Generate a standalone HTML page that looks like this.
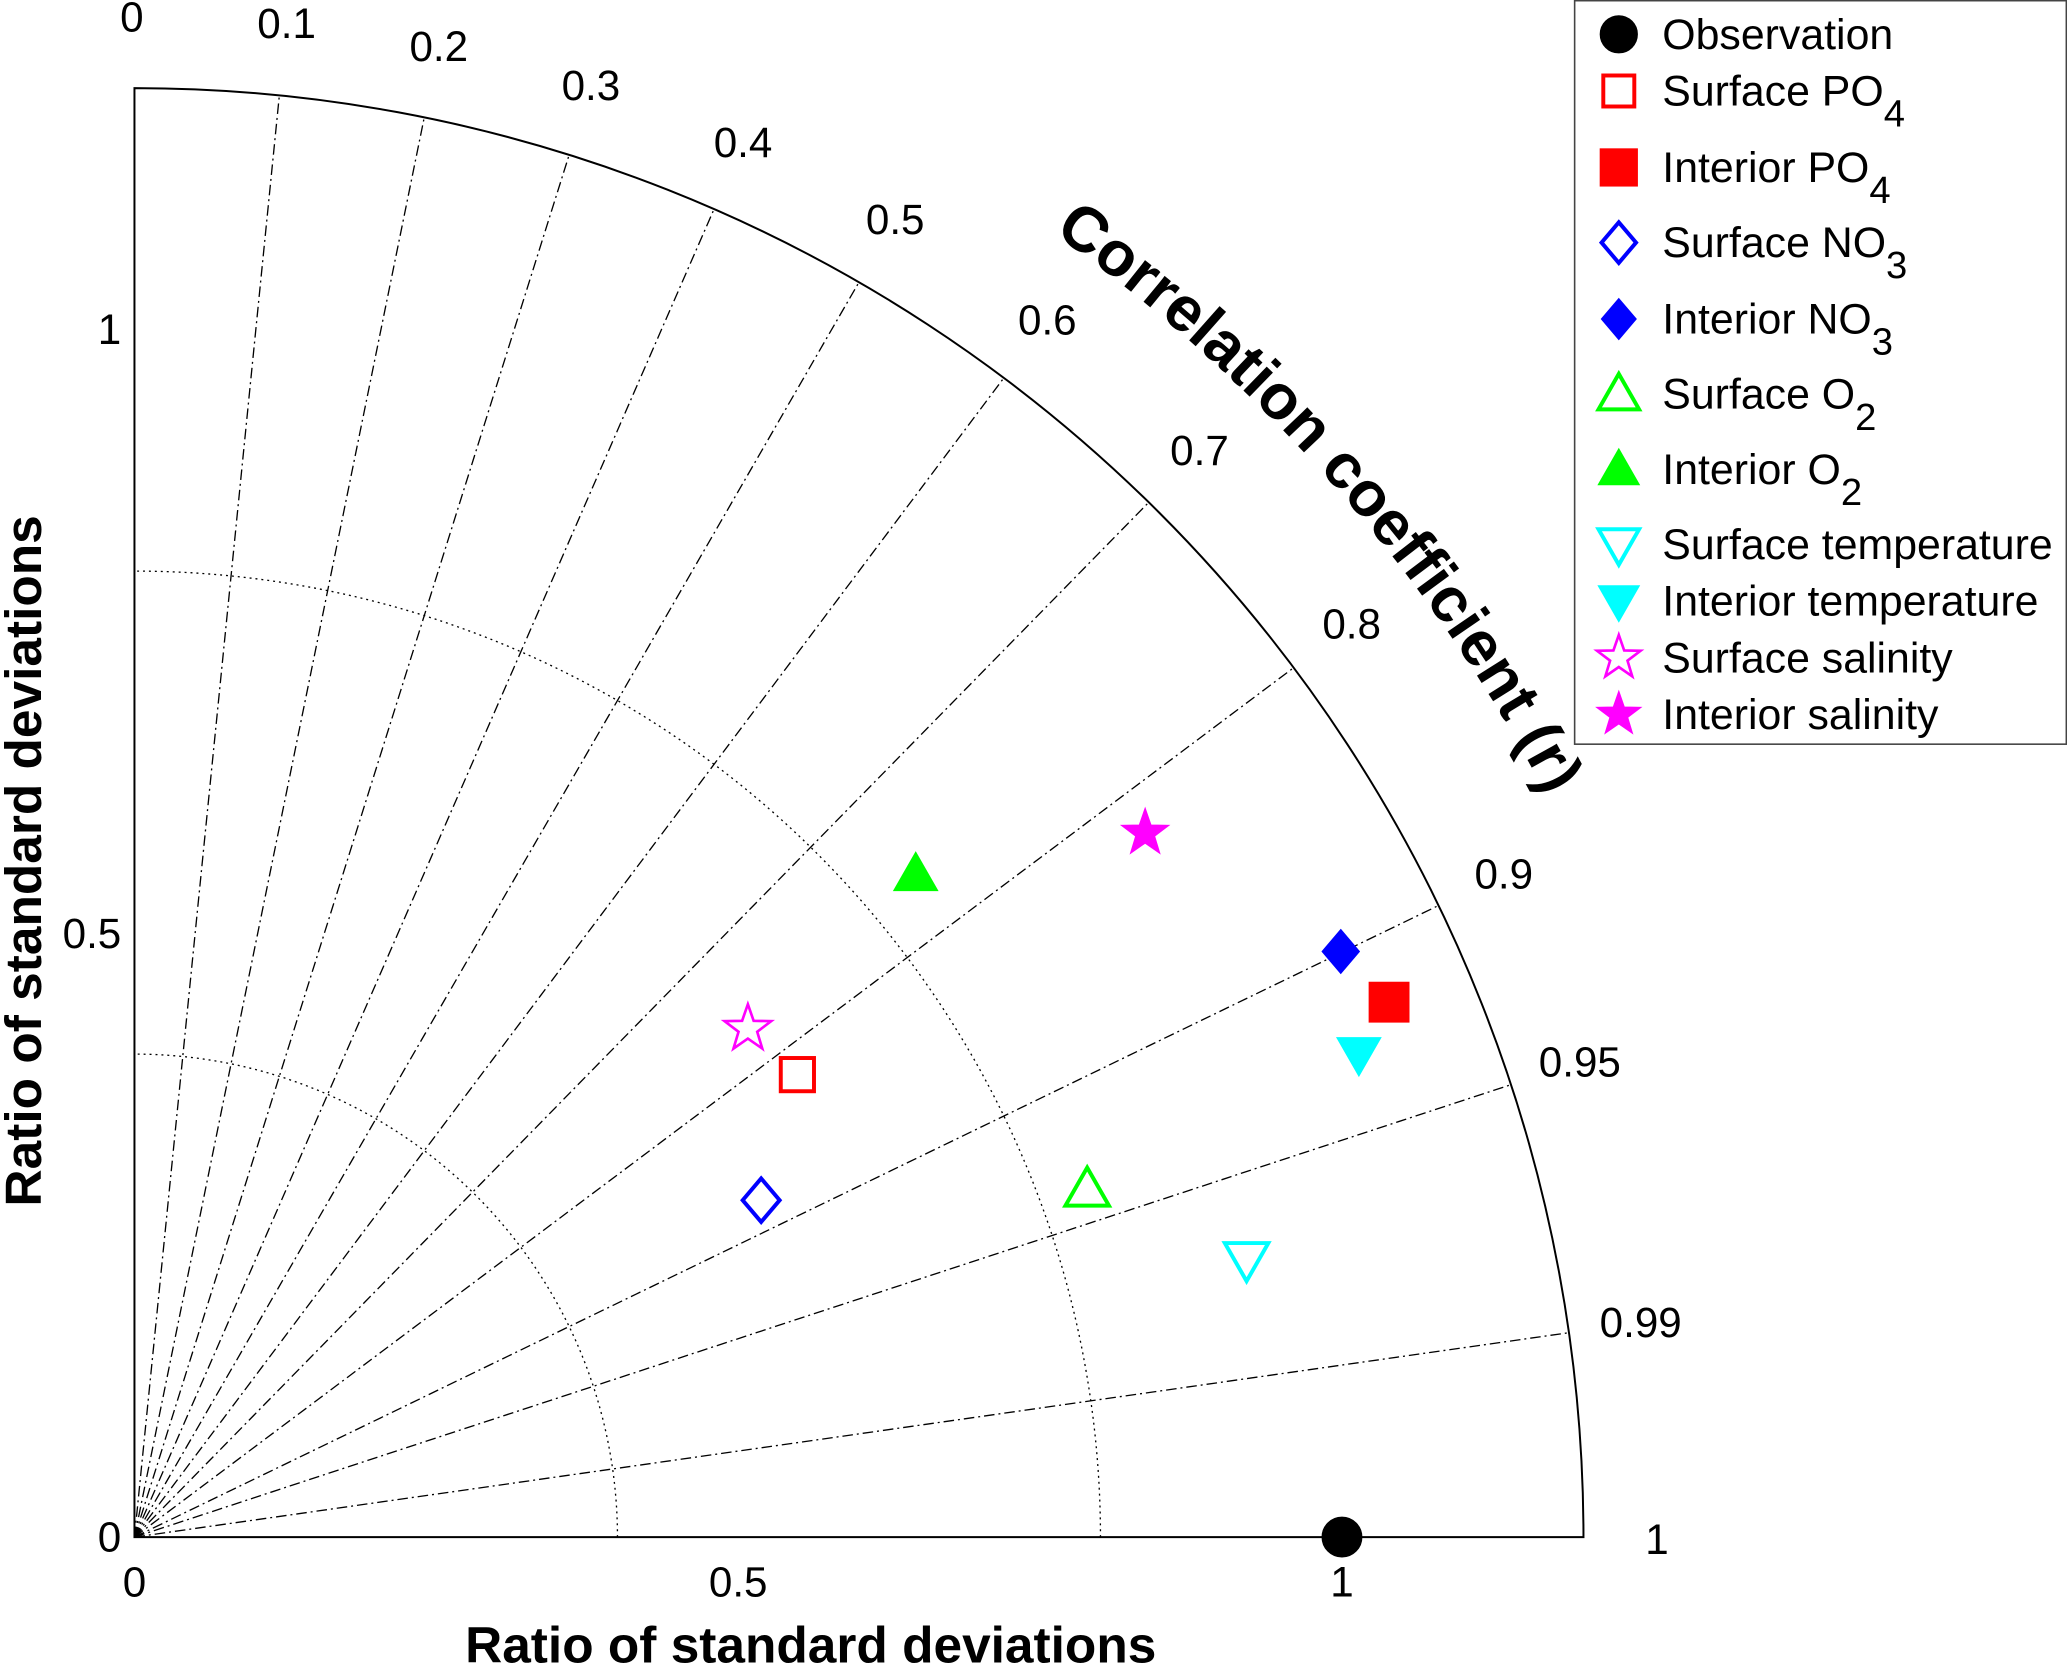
<!DOCTYPE html>
<html><head><meta charset="utf-8"><style>html,body{margin:0;padding:0;background:#fff}svg{display:block}text{font-family:"Liberation Sans",sans-serif}</style></head>
<body>
<svg id="chart" width="2067" height="1665" viewBox="0 0 1568 1263" xmlns="http://www.w3.org/2000/svg">
<g id="grid"></g>
<g id="marks"></g>
<text x="615" y="1261" font-size="39" font-weight="bold" text-anchor="middle">Ratio of standard deviations</text>
<text transform="translate(31,653) rotate(-90)" font-size="39" font-weight="bold" text-anchor="middle">Ratio of standard deviations</text>
<path id="arcpath" d="" fill="none"/>
<text font-size="48" font-weight="bold"><textPath href="#arcpath" startOffset="50%" text-anchor="middle">Correlation coefficient (r)</textPath></text>
<g id="legend"></g>
</svg>
<script>
const seriesNames=["Observation","Surface PO4","Interior PO4","Surface NO3","Interior NO3","Surface O2","Interior O2","Surface temperature","Interior temperature","Surface salinity","Interior salinity"];
const legendLabels=[["Observation",""],["Surface PO","4"],["Interior PO","4"],["Surface NO","3"],["Interior NO","3"],["Surface O","2"],["Interior O","2"],["Surface temperature",""],["Interior temperature",""],["Surface salinity",""],["Interior salinity",""]];
const stdRatioX=[1,0.549,1.039,0.519,0.999,0.789,0.647,0.921,1.014,0.508,0.837];
const stdRatioY=[0,0.383,0.443,0.279,0.485,0.288,0.549,0.230,0.400,0.421,0.583];
const markerShapes=["circle","square","square","diamond","diamond","tri","tri","dtri","dtri","star","star"];
const markerFilled=[true,false,true,false,true,false,true,false,true,false,true];
const markerColors=["#000","#f00","#f00","#00f","#00f","#0f0","#0f0","#0ff","#0ff","#f0f","#f0f"];
const corrTicks=[0.1,0.2,0.3,0.4,0.5,0.6,0.7,0.8,0.9,0.95,0.99];
const corrTickLabels=["0.1","0.2","0.3","0.4","0.5","0.6","0.7","0.8","0.9","0.95","0.99"];
const stdTicks=[0,0.5,1];
const stdTickLabels=["0","0.5","1"];
const stdCircles=[0.4,0.8];
const maxStd=1.2;

const NS="http://www.w3.org/2000/svg";
const OX=102,OY=1166,S=916;
const sx=v=>OX+v*S, sy=v=>OY-v*S;
function mk(tag,attrs,parent){const e=document.createElementNS(NS,tag);for(const k in attrs)e.setAttribute(k,attrs[k]);parent.appendChild(e);return e;}
const grid=document.getElementById('grid'),marks=document.getElementById('marks'),leg=document.getElementById('legend');

stdCircles.forEach(r=>{const e=mk('path',{d:`M${sx(r)},${OY} A${r*S},${r*S} 0 0 0 ${OX},${sy(r)}`,fill:'none',stroke:'#000','stroke-width':1,'stroke-dasharray':'1.5,3'},grid);

});
corrTicks.forEach((c,i)=>{const a=Math.acos(c);const R=maxStd*S;
const l=mk('line',{x1:OX,y1:OY,x2:OX+R*Math.cos(a),y2:OY-R*Math.sin(a),stroke:'#000','stroke-width':1,'stroke-dasharray':'8,3,1.5,3'},grid);


const LR=1.26*S;
const t=mk('text',{x:OX+LR*Math.cos(a),y:OY-LR*Math.sin(a)+11,'font-size':32,'text-anchor':'middle'},grid);t.textContent=corrTickLabels[i];

});
let e=mk('path',{d:`M${sx(maxStd)},${OY} A${maxStd*S},${maxStd*S} 0 0 0 ${OX},${sy(maxStd)} L${OX},${OY} Z`,fill:'none',stroke:'#000','stroke-width':1.5},grid);


let t0=mk('text',{x:100,y:24,'font-size':32,'text-anchor':'middle'},grid);t0.textContent='0';


let t1=mk('text',{x:1257,y:1179,'font-size':32,'text-anchor':'middle'},grid);t1.textContent='1';


stdTicks.forEach((v,i)=>{
const a=mk('text',{x:sx(v),y:1211,'font-size':32,'text-anchor':'middle'},grid);a.textContent=stdTickLabels[i];


const b=mk('text',{x:92,y:sy(v)+11,'font-size':32,'text-anchor':'end'},grid);b.textContent=stdTickLabels[i];

});
(function(){const R=1210,a1=63.5*Math.PI/180,a2=19*Math.PI/180;
document.getElementById('arcpath').setAttribute('d',`M${OX+R*Math.cos(a1)},${OY-R*Math.sin(a1)} A${R},${R} 0 0 1 ${OX+R*Math.cos(a2)},${OY-R*Math.sin(a2)}`);})();

function marker(shape,filled,color,x,y,s,parent){
const st={fill:filled?color:'none',stroke:color,'stroke-width':filled?1:3};let el;
if(shape==='circle')el=mk('circle',Object.assign({cx:x,cy:y,r:s*0.5},st),parent);
else if(shape==='square'){const h=filled?s*0.5:s*0.42;el=mk('rect',Object.assign({x:x-h,y:y-h,width:2*h,height:2*h},st),parent);}
else if(shape==='diamond'){const h=s*0.55;el=mk('polygon',Object.assign({points:`${x},${y-h} ${x+h*0.85},${y} ${x},${y+h} ${x-h*0.85},${y}`},st),parent);}
else if(shape==='tri'){const h=s*0.55;el=mk('polygon',Object.assign({points:`${x},${y-h} ${x+h},${y+h*0.75} ${x-h},${y+h*0.75}`},st),parent);}
else if(shape==='dtri'){const h=s*0.55;el=mk('polygon',Object.assign({points:`${x},${y+h} ${x+h},${y-h*0.75} ${x-h},${y-h*0.75}`},st),parent);}
else {const R=s*0.62,r=R*0.4;let p=[];for(let k=0;k<10;k++){const rr=k%2?r:R,an=-Math.PI/2+k*Math.PI/5;p.push((x+rr*Math.cos(an))+','+(y+rr*Math.sin(an)));}
el=mk('polygon',Object.assign({points:p.join(' ')},st,{'stroke-width':filled?1:2}),parent);}
return el;}
stdRatioX.forEach((v,i)=>{const el=marker(markerShapes[i],markerFilled[i],markerColors[i],sx(v),sy(stdRatioY[i]),30,marks);

});
e=mk('rect',{x:1194.5,y:0.5,width:373,height:564,fill:'#fff',stroke:'#444','stroke-width':1.2},leg);


const ly=[26,69,127,184,242,299,356,413,456,499,542];
legendLabels.forEach((lb,i)=>{const y=ly[i];
const m=marker(markerShapes[i],markerFilled[i],markerColors[i],1228,y,28,leg);


const t=mk('text',{x:1261,y:y+11,'font-size':32.5},leg);t.textContent=lb[0];
if(lb[1]){const ts=mk('tspan',{dy:16,'font-size':29},t);ts.textContent=lb[1];}

});
</script>
</body></html>
